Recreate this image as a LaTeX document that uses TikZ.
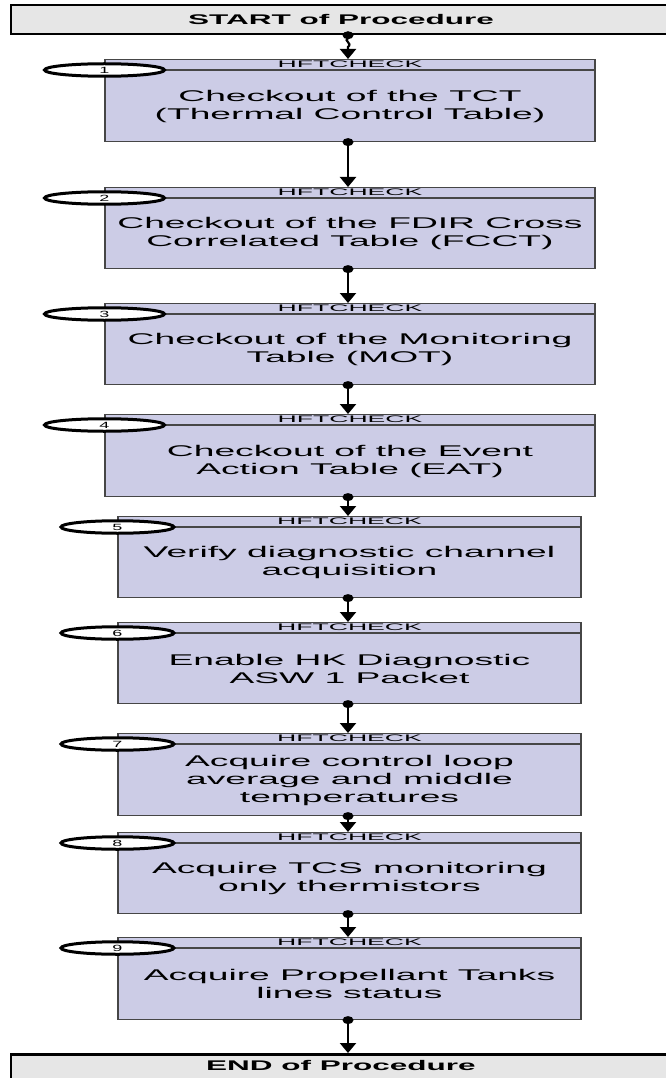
\documentclass[tikz,border=0pt]{standalone}
\usepackage{fontspec}
\usepackage{graphicx}
\setmainfont{Liberation Sans}
\newfontfamily\bodyfont[FakeStretch=2.4]{Liberation Sans}
\newfontfamily\hdrfont[FakeStretch=2.8]{Liberation Sans}
\newfontfamily\numfont[FakeStretch=2.0]{Liberation Sans}
\newfontfamily\ttlfont[FakeStretch=2.25]{Liberation Sans Bold}
\newcommand\wideTitle[1]{{\ttlfont\fontsize{14}{15}\selectfont #1}}
\usetikzlibrary{shapes.geometric,arrows.meta,calc}
\definecolor{lav}{RGB}{204,204,230}
\definecolor{boxline}{RGB}{70,70,70}
\definecolor{startgray}{RGB}{230,230,230}
\tikzset{
  stepbox/.style={draw=boxline, line width=1.1pt, fill=lav, rectangle, inner sep=0pt},
  headline/.style={draw=boxline, line width=1.1pt},
  hdr/.style={font=\hdrfont\fontsize{9.5}{10}\selectfont, inner sep=0pt},
  bodytext/.style={font=\bodyfont\fontsize{15.5}{18}\selectfont, align=center, inner sep=0pt},
  numell/.style={ellipse, draw=black, fill=white, line width=3pt, inner sep=0pt,
     minimum height=12.5pt, font=\numfont\fontsize{9}{9}\selectfont},
  termbox/.style={draw=black, line width=2.5pt, fill=startgray, rectangle, inner sep=0pt,
     minimum width=660pt},
  conn/.style={draw=black, line width=2.2pt, -{Triangle[width=16pt,length=10pt]}},
}
\newcommand\procstep[8]{% name, cx, top, width, height, ellipse width, number, text
  \node[stepbox, minimum width=#4pt, minimum height=#5pt, anchor=north] (#1) at (#2,#3) {};
  \draw[headline] ([yshift=-11pt]#1.north west) -- ([yshift=-11pt]#1.north east);
  \node[hdr] (#1h) at ([yshift=-5.5pt]#1.north) {HFTCHECK};
  \node[bodytext] (#1t) at ($([yshift=-11pt]#1.north)!0.5!(#1.south)$) {#8};
  \node[numell, minimum width=#6pt] (#1n) at ([yshift=-11pt]#1.north west) {#7};
}
\newcommand\bdot[1]{\fill[black] (#1) ellipse (5.5pt and 4pt);}
\begin{document}
\begin{tikzpicture}[x=1pt,y=-1pt]
\useasboundingbox (0,0) rectangle (665,1078);
\node[termbox, minimum height=29pt] (start) at (341,19.5) {};
\node[anchor=center, inner sep=0pt] (startt) at (341,19) {\wideTitle{START of Procedure}};
\node[termbox, minimum height=40pt, anchor=north] (end) at (341,1053) {};
\node[anchor=center, inner sep=0pt] (endt) at (341,1065) {\wideTitle{END of Procedure}};

\procstep{b1}{350}{59}{490}{82}{120}{1}{Checkout of the TCT\\(Thermal Control Table)}
\procstep{b2}{350}{187}{490}{81}{120}{2}{Checkout of the FDIR Cross\\Correlated Table (FCCT)}
\procstep{b3}{350}{303}{490}{81}{120}{3}{Checkout of the Monitoring\\Table (MOT)}
\procstep{b4}{350}{414}{490}{82}{120}{4}{Checkout of the Event\\Action Table (EAT)}
\procstep{b5}{349.5}{516}{463}{81}{113}{5}{Verify diagnostic channel\\acquisition}
\procstep{b6}{349.5}{622}{463}{81}{113}{6}{Enable HK Diagnostic\\ASW 1 Packet}
\procstep{b7}{349.5}{733}{463}{82}{113}{7}{Acquire control loop\\average and middle\\temperatures}
\procstep{b8}{349.5}{832}{463}{81}{113}{8}{Acquire TCS monitoring\\only thermistors}
\procstep{b9}{349.5}{937}{463}{82}{113}{9}{Acquire Propellant Tanks\\lines status}

% connectors
\coordinate (s0) at (start.south -| 348,0);
\coordinate (t1) at (b1.north -| 348,0);
\bdot{s0}
\draw[conn] (s0) -- (348,38) .. controls (343,41) and (353,43) .. (348,47) -- (t1);
\foreach \a/\b in {b1/b2,b2/b3,b3/b4,b4/b5,b5/b6,b6/b7,b7/b8,b8/b9}{
  \coordinate (sa) at (\a.south -| 348,0);
  \coordinate (tb) at (\b.north -| 348,0);
  \bdot{sa}
  \draw[conn] (sa) -- (tb);
}
\coordinate (s9) at (b9.south -| 348,0);
\coordinate (te) at (end.north -| 348,0);
\bdot{s9}
\draw[conn] (s9) -- (te);
\end{tikzpicture}
\end{document}
